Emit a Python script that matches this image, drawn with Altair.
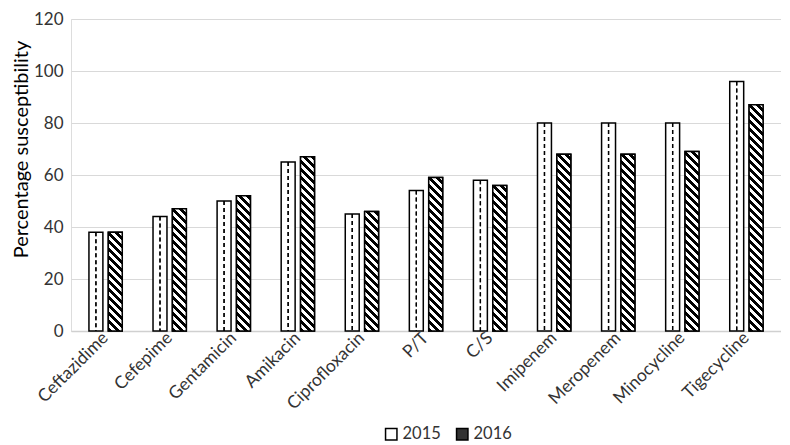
import altair as alt
import pandas as pd

drugs = ["Ceftazidime", "Cefepime", "Gentamicin", "Amikacin", "Ciprofloxacin",
         "P/T", "C/S", "Imipenem", "Meropenem", "Minocycline", "Tigecycline"]
v2015 = [38, 44, 50, 65, 45, 54, 58, 80, 80, 80, 96]
v2016 = [38, 47, 52, 67, 46, 59, 56, 68, 68, 69, 87]
years = ["2015", "2016"]
y_ticks = [0, 20, 40, 60, 80, 100, 120]

rows = []
for d, a, b in zip(drugs, v2015, v2016):
    rows.append({"drug": d, "year": "2015", "value": a})
    rows.append({"drug": d, "year": "2016", "value": b})
df = pd.DataFrame(rows)

W, H = 710, 312
YMAX = 120
PI_X, PO_X = 0.48, 0.28
PI_O = 0.28
FONT = "Lato"

# geometric bar width (for the hatch gradient)
step_x = W / (len(drugs) - PI_X + 2 * PO_X)
band = step_x * (1 - PI_X)
sub_step = band / (2 - PI_O)
bar_w = sub_step * (1 - PI_O)


def hatch(h, w=bar_w, period=8.0, dark=4.0):
    L = w + h
    bounds = []
    p = 0.0
    while p < L:
        bounds.append((p + dark, "#000000", "#ffffff"))
        bounds.append((p + period, "#ffffff", "#000000"))
        p += period
    stops = [alt.GradientStop(offset=0, color="#000000")]
    last = "#000000"
    for b, c1, c2 in bounds:
        if b >= L:
            break
        o = b / L
        stops.append(alt.GradientStop(offset=o, color=c1))
        stops.append(alt.GradientStop(offset=o, color=c2))
        last = c2
    stops.append(alt.GradientStop(offset=1, color=last))
    c = (w + h) / (w * w + h * h)
    return alt.Gradient(gradient="linear", stops=stops,
                        x1=0, y1=1, x2=c * w, y2=1 - c * h)


x_enc = alt.X("drug:N", sort=drugs,
              scale=alt.Scale(domain=drugs, paddingInner=PI_X, paddingOuter=PO_X),
              axis=alt.Axis(title=None, labelAngle=315, labelAlign="right",
                            labelBaseline="middle", labelFontSize=17.5, labelFont=FONT,
                            labelColor="#333333", labelPadding=4, ticks=False,
                            domainColor="#d0d0d0", domainWidth=1.5, grid=False))
xo_enc = alt.XOffset("year:N", scale=alt.Scale(domain=years, paddingInner=PI_O))
y_enc = alt.Y("value:Q", scale=alt.Scale(domain=[0, YMAX], nice=False),
              axis=alt.Axis(values=y_ticks, title="Percentage susceptibility",
                            titleFontSize=20, titleFont=FONT, titleFontWeight="normal",
                            titleColor="#000000", titlePadding=2, titleY=130,
                            labelFontSize=17, labelFont=FONT, labelColor="#333333",
                            labelPadding=8, ticks=False, domain=False,
                            gridColor="#d9d9d9", gridWidth=1))

base = alt.Chart(df).mark_bar(stroke="#000000", strokeWidth=1.5).encode(
    x=x_enc, xOffset=xo_enc, y=y_enc,
    fill=alt.Fill("year:N", scale=alt.Scale(domain=years, range=["#ffffff", "#333333"]),
                  legend=alt.Legend(title=None, orient="none", direction="horizontal",
                                    legendX=312, legendY=407, symbolType="square",
                                    symbolSize=130, symbolStrokeColor="#000000",
                                    symbolStrokeWidth=1.5, labelFontSize=16.5,
                                    labelFont=FONT, labelColor="#333333",
                                    columnPadding=12, labelOffset=3))
)

layers = [base]
for d, v in zip(drugs, v2016):
    h = v * H / YMAX
    layers.append(
        alt.Chart(df).transform_filter(
            (alt.datum.drug == d) & (alt.datum.year == "2016")
        ).mark_bar(fill=hatch(h), stroke="#000000", strokeWidth=1.5).encode(
            x=alt.X("drug:N", sort=drugs), xOffset=alt.XOffset("year:N"), y=alt.Y("value:Q")
        )
    )

for off in (-2.5, 3.5):
    layers.append(
        alt.Chart(df).transform_filter(alt.datum.year == "2015").mark_rule(
            strokeDash=[4, 3], strokeWidth=1.3, color="#000000", xOffset=off
        ).encode(
            x=alt.X("drug:N", sort=drugs), xOffset=alt.XOffset("year:N"),
            y=alt.Y("value:Q"), y2=alt.datum(0)
        )
    )

chart = alt.layer(*layers).properties(
    width=W, height=H,
    padding={"left": 3, "top": 2, "right": 0, "bottom": 0}
).configure_view(stroke=None).configure(font=FONT)

chart.save("out.html", embed_options={"renderer": "svg", "actions": False})
